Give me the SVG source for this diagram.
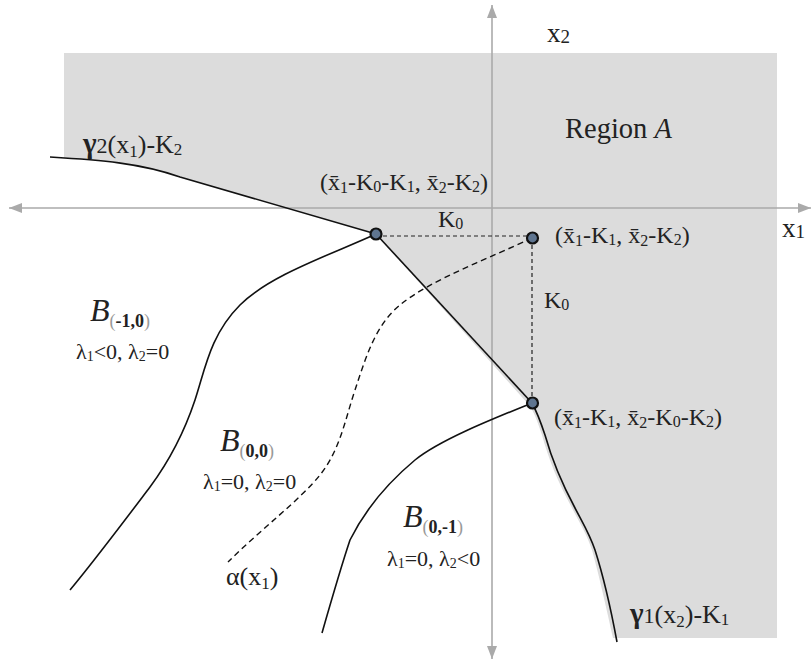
<svg xmlns="http://www.w3.org/2000/svg" width="812" height="661" viewBox="0 0 812 661">
<defs>
<style>
.t{font-size:24px;}
.s{font-size:16px;}
.g{font-size:26px;}
.gs{font-size:17px;}
.lam{font-size:22px;}
.ls{font-size:14px;}
.ax{stroke:#aaa;stroke-width:1.6;fill:none;}
.crv{stroke:#111;stroke-width:1.6;fill:none;}
.dash{stroke:#222;stroke-width:1.2;fill:none;stroke-dasharray:4 3;}
.dash2{stroke:#111;stroke-width:1.4;fill:none;stroke-dasharray:6 4;}
.pt{fill:#5f7590;stroke:#111;stroke-width:2.2;}
.gp{fill:#999;font-weight:normal;}
</style>
<marker id="ah" markerWidth="14" markerHeight="12" refX="13" refY="5" orient="auto-start-reverse" markerUnits="userSpaceOnUse">
<path d="M0,0 L13,5 L0,10 Z" fill="#aaa"/>
</marker>
</defs>

<g id="regionA">
<path d="M64,53 H777 V638 H613 C608,615 599,575 592,550 C587,535 582,527 572,508 C557,480 549,460 542,435 C537,420 534,412 529,405 L376,234 L180,177 C140,163 100,160 64,158 Z" fill="#dcdcdc"/>
</g>

<g id="axes">
<line class="ax" x1="811" y1="208" x2="9" y2="208" marker-start="url(#ah)" marker-end="url(#ah)"/>
<line class="ax" x1="492" y1="659" x2="492" y2="5" marker-start="url(#ah)" marker-end="url(#ah)"/>
</g>

<g id="connectors">
<path id="gamma2" class="crv" d="M50,157 C100,160 140,163 180,177 L376,234"/>
<path id="edge" class="crv" d="M376,234 L532,403"/>
<path id="gamma1" class="crv" d="M532,403 C537,412 540,420 545,435 C552,460 560,480 575,508 C585,527 590,535 595,550 C603,575 612,615 617,642"/>
<path id="bnd1" class="crv" d="M376,234 C330,255 270,275 240,305 C210,335 205,370 195,400 C185,430 170,460 150,487 C125,520 95,560 70,590"/>
<path id="bnd2" class="crv" d="M532,403 C490,420 440,440 415,460 C385,485 365,510 350,540 C340,570 330,605 322,633"/>
<path id="alpha" class="dash2" d="M532,238 C490,258 430,280 400,305 C375,325 365,360 355,390 C345,420 340,450 320,475 C300,500 260,530 228,562"/>
<line class="dash" x1="376" y1="236" x2="532" y2="236"/>
<line class="dash" x1="532" y1="238" x2="532" y2="403"/>
</g>

<g id="p1"><circle class="pt" cx="376" cy="234" r="5.5"/></g>
<g id="p2"><circle class="pt" cx="532.5" cy="238" r="5.5"/></g>
<g id="p3"><circle class="pt" cx="532.5" cy="403" r="5.5"/></g>

<g id="labels" font-family="'Liberation Serif', 'Times New Roman', 'DejaVu Serif', serif" fill="#222">
<text x="547" y="42" font-size="27">x<tspan font-size="19" dy="1">2</tspan></text>
<text x="782" y="237" font-size="27">x<tspan font-size="19" dy="1">1</tspan></text>
<text x="565" y="138" font-size="28.5">Region <tspan font-style="italic">A</tspan></text>

<text x="83" y="153" class="g"><tspan font-weight="bold" font-size="29">γ</tspan><tspan font-size="22">2</tspan>(x<tspan class="gs" dy="4">1</tspan><tspan dy="-4">)-K</tspan><tspan class="gs" dy="2">2</tspan></text>

<text x="320" y="190" class="t">(x̄<tspan class="s" dy="3">1</tspan><tspan dy="-3">-K</tspan><tspan class="s" dy="2">0</tspan><tspan dy="-2">-K</tspan><tspan class="s" dy="2">1</tspan><tspan dy="-2">, x̄</tspan><tspan class="s" dy="3">2</tspan><tspan dy="-3">-K</tspan><tspan class="s" dy="2">2</tspan><tspan dy="-2">)</tspan></text>

<text x="438" y="227" class="t">K<tspan class="s" dy="2">0</tspan></text>

<text x="555" y="243" class="t">(x̄<tspan class="s" dy="3">1</tspan><tspan dy="-3">-K</tspan><tspan class="s" dy="2">1</tspan><tspan dy="-2">, x̄</tspan><tspan class="s" dy="3">2</tspan><tspan dy="-3">-K</tspan><tspan class="s" dy="2">2</tspan><tspan dy="-2">)</tspan></text>

<text x="544" y="308" class="t">K<tspan class="s" dy="2">0</tspan></text>

<text x="554" y="425" class="t">(x̄<tspan class="s" dy="3">1</tspan><tspan dy="-3">-K</tspan><tspan class="s" dy="2">1</tspan><tspan dy="-2">, x̄</tspan><tspan class="s" dy="3">2</tspan><tspan dy="-3">-K</tspan><tspan class="s" dy="2">0</tspan><tspan dy="-2">-K</tspan><tspan class="s" dy="2">2</tspan><tspan dy="-2">)</tspan></text>

<text x="90" y="321" font-size="32" font-style="italic">B<tspan font-size="18" font-style="normal" dy="6"><tspan class="gp">(</tspan><tspan font-weight="bold">-1,0</tspan><tspan class="gp">)</tspan></tspan></text>
<text x="76" y="359" class="lam">λ<tspan class="ls" dy="2">1</tspan><tspan dy="-2">&lt;0, λ</tspan><tspan class="ls" dy="2">2</tspan><tspan dy="-2">=0</tspan></text>

<text x="220" y="451" font-size="32" font-style="italic">B<tspan font-size="18" font-style="normal" dy="6"><tspan class="gp">(</tspan><tspan font-weight="bold">0,0</tspan><tspan class="gp">)</tspan></tspan></text>
<text x="203" y="489" class="lam">λ<tspan class="ls" dy="2">1</tspan><tspan dy="-2">=0, λ</tspan><tspan class="ls" dy="2">2</tspan><tspan dy="-2">=0</tspan></text>

<text x="403" y="527" font-size="32" font-style="italic">B<tspan font-size="18" font-style="normal" dy="6"><tspan class="gp">(</tspan><tspan font-weight="bold">0,-1</tspan><tspan class="gp">)</tspan></tspan></text>
<text x="387" y="566" class="lam">λ<tspan class="ls" dy="2">1</tspan><tspan dy="-2">=0, λ</tspan><tspan class="ls" dy="2">2</tspan><tspan dy="-2">&lt;0</tspan></text>

<text x="226" y="585" font-size="26">α(x<tspan class="gs" dy="4">1</tspan><tspan dy="-4">)</tspan></text>

<text x="630" y="623" class="g"><tspan font-weight="bold" font-size="29">γ</tspan><tspan font-size="22">1</tspan>(x<tspan class="gs" dy="4">2</tspan><tspan dy="-4">)-K</tspan><tspan class="gs" dy="2">1</tspan></text>
</g>
</svg>
